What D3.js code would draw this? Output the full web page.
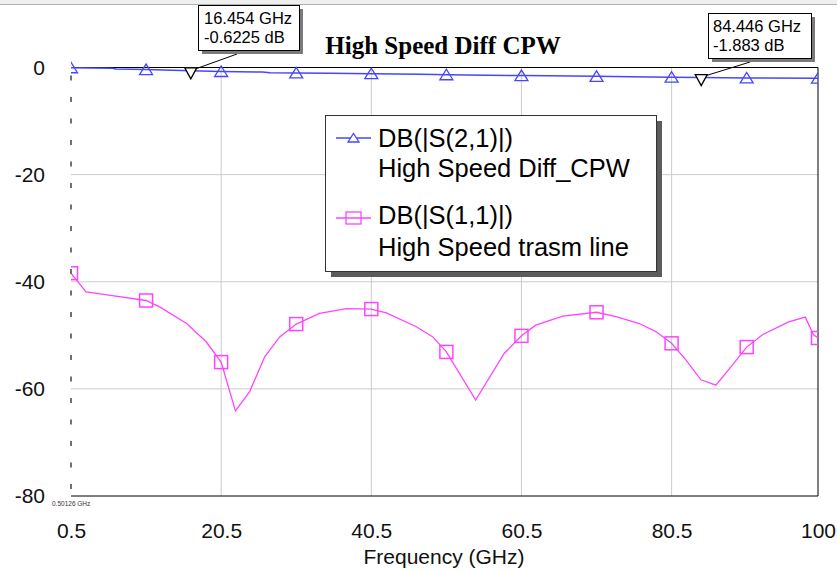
<!DOCTYPE html>
<html><head><meta charset="utf-8">
<script src="https://cdn.jsdelivr.net/npm/d3@7"></script>
<style>body{margin:0;background:#fff;} svg{display:block;}</style>
</head><body>
<svg id="c" width="837" height="571"></svg>
<script>
// ---------- data ----------
const xTicks = [0.5, 20.5, 40.5, 60.5, 80.5, 100];
const yTicks = [0, -20, -40, -60, -80];
const xGrid = [20.5, 40.5, 60.5, 80.5];
const yGrid = [-20, -40, -60];

const s21Freq = [0.5, 6, 6.5, 10.5, 14, 16.454, 20.5, 26, 27, 30.5, 35, 40.5, 47, 49, 50.5, 56, 60.5, 64, 70.5, 75, 80.5, 84.446, 90.5, 100];
const s21Db   = [-0.05, -0.15, -0.28, -0.38, -0.5, -0.6225, -0.75, -0.85, -0.98, -1.02, -1.07, -1.15, -1.25, -1.33, -1.35, -1.43, -1.5, -1.56, -1.65, -1.72, -1.8, -1.883, -1.95, -2.0];

const s11Freq = [0.5, 2.5, 6.0, 10.5, 12.3, 15.9, 18.5, 20.5, 22.4, 24.3, 26.3, 28.3, 30.5, 33.6, 37.2, 40.5, 42.5, 46.5, 48.7, 50.5, 54.4, 58.2, 60.5, 62.4, 66.0, 70.5, 73.1, 76.2, 78.4, 80.5, 82.4, 84.4, 86.4, 88.4, 90.5, 92.6, 96.1, 98.3, 99.4, 100];
const s11Db   = [-38.4, -41.9, -42.6, -43.5, -44.7, -47.8, -51.2, -55.0, -64.1, -60.5, -54.0, -50.3, -47.9, -45.9, -45.0, -45.1, -45.8, -48.4, -50.3, -53.1, -62.1, -53.4, -50.1, -48.1, -46.4, -45.7, -46.5, -47.8, -49.3, -51.5, -54.6, -58.3, -59.3, -55.9, -52.2, -49.9, -47.5, -46.6, -49.9, -50.5];

const symbolFreq = [0.5, 10.5, 20.5, 30.5, 40.5, 50.5, 60.5, 70.5, 80.5, 90.5, 100];

const markerFreq = [16.454, 84.446];
const markerDb = [-0.6225, -1.883];
const markerText = [["16.454 GHz", "-0.6225 dB"], ["84.446 GHz", "-1.883 dB"]];

const legendText = [["DB(|S(2,1)|)", "High Speed Diff_CPW"], ["DB(|S(1,1)|)", "High Speed trasm line"]];
const titleText = "High Speed Diff CPW";
const xLabel = "Frequency (GHz)";
const startLabel = "0.50126 GHz";

// ---------- layout ----------
const L = 71, R = 818, T = 67.5, B = 496;
const BLUE = "#4646ff", PINK = "#ff44ff";
const SANS = "'Liberation Sans', Arial, sans-serif";

const svg = d3.select("#c");
const x = d3.scaleLinear().domain([0.5, 100]).range([L, R]);
const y = d3.scaleLinear().domain([-80, 0]).range([B, T]);

// top window strip
svg.append("rect").attr("x", 0).attr("y", 0).attr("width", 837).attr("height", 4).attr("fill", "#efefef");
svg.append("line").attr("x1", 0).attr("x2", 837).attr("y1", 4.5).attr("y2", 4.5).attr("stroke", "#b0b0b0");

// grid
svg.append("g").selectAll("line").data(xGrid).join("line")
  .attr("x1", d => x(d)).attr("x2", d => x(d)).attr("y1", T).attr("y2", B)
  .attr("stroke", "#cccccc").attr("stroke-width", 1);
svg.append("g").selectAll("line").data(yGrid).join("line")
  .attr("x1", L).attr("x2", R).attr("y1", d => y(d)).attr("y2", d => y(d))
  .attr("stroke", "#cccccc").attr("stroke-width", 1);

// frame (top, right, bottom)
svg.append("path").attr("d", `M${L},${T}H${R}V${B}H${L}`).attr("fill", "none").attr("stroke", "#000").attr("stroke-width", 1);

// clip
svg.append("clipPath").attr("id", "pc").append("rect").attr("x", L).attr("y", T - 10).attr("width", R - L).attr("height", B - T + 10);
const plot = svg.append("g").attr("clip-path", "url(#pc)");

const s21 = s21Freq.map((f, i) => ({f, v: s21Db[i]}));
const s11 = s11Freq.map((f, i) => ({f, v: s11Db[i]}));
const line = d3.line().x(d => x(d.f)).y(d => y(d.v));

plot.append("path").datum(s11).attr("d", line).attr("fill", "none").attr("stroke", PINK).attr("stroke-width", 1.3);
plot.append("path").datum(s21).attr("d", line).attr("fill", "none").attr("stroke", BLUE).attr("stroke-width", 1.5);

// symbols
plot.append("g").selectAll("rect").data(s11.filter(d => symbolFreq.includes(d.f))).join("rect")
  .attr("x", d => x(d.f) - 6.5).attr("y", d => y(d.v) - 6.5).attr("width", 13).attr("height", 13)
  .attr("fill", "none").attr("stroke", PINK).attr("stroke-width", 1.5);
plot.append("g").selectAll("path").data(s21.filter(d => symbolFreq.includes(d.f))).join("path")
  .attr("d", d => { const cx = x(d.f), cy = y(d.v); return `M${cx - 6.5},${cy + 5}L${cx},${cy - 5.5}L${cx + 6.5},${cy + 5}Z`; })
  .attr("fill", "none").attr("stroke", BLUE).attr("stroke-width", 1.3);

// start dashed marker line
svg.append("line").attr("x1", x(0.5)).attr("x2", x(0.5)).attr("y1", T + 8).attr("y2", B - 6)
  .attr("stroke", "#707070").attr("stroke-width", 2).attr("stroke-dasharray", "5,16.5");
svg.append("text").attr("x", 52).attr("y", 506).attr("font-family", SANS).attr("font-size", 6.5).attr("fill", "#333").text(startLabel);

// axes
const xAxis = svg.append("g").attr("transform", `translate(0,${B})`)
  .call(d3.axisBottom(x).tickValues(xTicks).tickSize(0).tickPadding(27).tickFormat(d => String(d)));
xAxis.select(".domain").remove();
xAxis.selectAll("text").attr("font-family", SANS).attr("font-size", 21).attr("fill", "#111");

const yAxis = svg.append("g").attr("transform", `translate(45,0)`)
  .call(d3.axisLeft(y).tickValues(yTicks).tickSize(0).tickPadding(0).tickFormat(d => String(d)));
yAxis.select(".domain").remove();
yAxis.selectAll("text").attr("font-family", SANS).attr("font-size", 21).attr("fill", "#111");

svg.append("text").attr("x", 444).attr("y", 564).attr("text-anchor", "middle")
  .attr("font-family", SANS).attr("font-size", 21).attr("fill", "#111").text(xLabel);

// title
svg.append("text").attr("x", 443).attr("y", 54).attr("text-anchor", "middle")
  .attr("font-family", "'Liberation Serif', 'Times New Roman', serif").attr("font-weight", "bold")
  .attr("font-size", 25).attr("fill", "#000").text(titleText);

// markers
const boxes = [{bx: 198, by: 5, bw: 101, bh: 45, tx: 204, ax: 237}, {bx: 708, by: 13, bw: 103, bh: 45, tx: 713, ax: 750}];
markerFreq.forEach((f, i) => {
  const mx = x(f), my = y(markerDb[i]);
  const b = boxes[i];
  svg.append("line").attr("x1", b.ax).attr("y1", b.by + b.bh + 4).attr("x2", mx + 5).attr("y2", my - 2)
    .attr("stroke", "#000").attr("stroke-width", 1);
  svg.append("path").attr("d", `M${mx - 6},${my - 3}L${mx + 6},${my - 3}L${mx},${my + 8}Z`)
    .attr("fill", "#fff").attr("stroke", "#000").attr("stroke-width", 1.3);
  svg.append("rect").attr("x", b.bx + 4).attr("y", b.by + 4).attr("width", b.bw).attr("height", b.bh).attr("fill", "#7a7a7a");
  svg.append("rect").attr("x", b.bx + 0.5).attr("y", b.by + 0.5).attr("width", b.bw).attr("height", b.bh)
    .attr("fill", "#fff").attr("stroke", "#000").attr("stroke-width", 1);
  markerText[i].forEach((t, j) => {
    svg.append("text").attr("x", b.tx).attr("y", b.by + 19 + j * 19).attr("font-family", SANS)
      .attr("font-size", 16.5).attr("fill", "#000").text(t);
  });
});

// legend
const lg = svg.append("g");
lg.append("rect").attr("x", 331).attr("y", 121).attr("width", 331).attr("height", 156).attr("fill", "#5c5c5c");
lg.append("rect").attr("x", 325.5).attr("y", 115.5).attr("width", 331).attr("height", 156)
  .attr("fill", "#fff").attr("stroke", "#333").attr("stroke-width", 1);
const legY = [138, 218];
const legColors = [BLUE, PINK];
legY.forEach((ly, i) => {
  lg.append("line").attr("x1", 336).attr("x2", 371).attr("y1", ly).attr("y2", ly).attr("stroke", legColors[i]).attr("stroke-width", 1.3);
  if (i === 0) {
    lg.append("path").attr("d", `M${348},${ly + 4}L${353.5},${ly - 4.5}L${359},${ly + 4}Z`).attr("fill", "#fff").attr("stroke", BLUE).attr("stroke-width", 1.3);
  } else {
    lg.append("rect").attr("x", 346).attr("y", ly - 6).attr("width", 15).attr("height", 12).attr("fill", "none").attr("stroke", PINK).attr("stroke-width", 1.3);
  }
  legendText[i].forEach((t, j) => {
    lg.append("text").attr("x", 378).attr("y", [147, 224][i] + j * [30, 32][i])
      .attr("font-family", SANS).attr("font-size", 25.5).attr("fill", "#000").text(t);
  });
});
</script>
</body></html>
